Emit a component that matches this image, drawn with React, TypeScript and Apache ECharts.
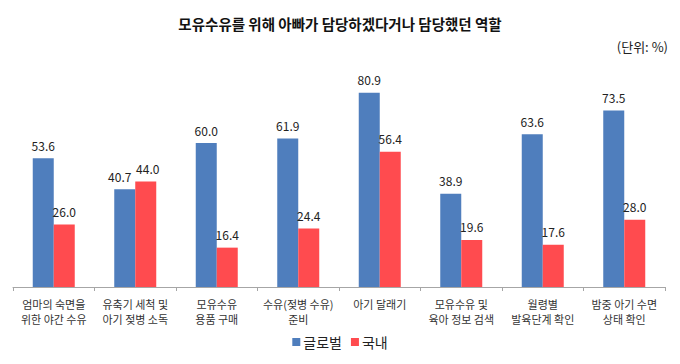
import React, { useEffect, useRef } from "react";
import * as echarts from "echarts";

const categories = [
  "엄마의 숙면을\n위한 야간 수유",
  "유축기 세척 및\n아기 젖병 소독",
  "모유수유\n용품 구매",
  "수유(젖병 수유)\n준비",
  "아기 달래기",
  "모유수유 및\n육아 정보 검색",
  "월령별\n발육단계 확인",
  "밤중 아기 수면\n상태 확인",
];
const globalValues = [53.6, 40.7, 60.0, 61.9, 80.9, 38.9, 63.6, 73.5];
const domesticValues = [26.0, 44.0, 16.4, 24.4, 56.4, 19.6, 17.6, 28.0];
const seriesNames = ["글로벌", "국내"];
const titleText = "모유수유를 위해 아빠가 담당하겠다거나 담당했던 역할";
const unitText = "(단위: %)";

const FONT = "'Noto Sans CJK KR', 'Noto Sans', sans-serif";

export default function App() {
  const ref = useRef<HTMLDivElement>(null);
  useEffect(() => {
    if (!ref.current) return;
    const chart = echarts.init(ref.current, undefined, { renderer: "svg" });
    const labelCfg = {
      show: true,
      position: "top",
      distance: 7,
      color: "#222",
      fontSize: 12,
      fontFamily: FONT,
      formatter: (p: any) => Number(p.value).toFixed(1),
    };
    // avoid overlapping labels where both bars are of similar height
    const withOffset = (vals: number[], other: number[], dx: number) =>
      vals.map((v, i) =>
        Math.abs(v - other[i]) < 6 ? { value: v, label: { offset: [dx, 0] } } : v
      );
    chart.setOption({
      animation: false,
      backgroundColor: "#fff",
      textStyle: { fontFamily: FONT },
      title: {
        text: titleText,
        left: "center",
        top: 11,
        textStyle: { fontSize: 14.5, fontWeight: "bold", color: "#111", fontFamily: FONT },
      },
      graphic: [
        {
          type: "text",
          right: 12,
          top: 40,
          style: { text: unitText, fontSize: 13, fill: "#222", fontFamily: FONT },
        },
      ],
      legend: {
        data: seriesNames,
        bottom: 10,
        left: "center",
        icon: "rect",
        itemWidth: 8,
        itemHeight: 8,
        itemGap: 9,
        textStyle: { fontSize: 14, color: "#222", fontFamily: FONT, padding: [0, 0, 0, -2] },
      },
      grid: { left: 13, right: 15, top: 71, bottom: 77 },
      xAxis: {
        type: "category",
        data: categories,
        axisLine: { lineStyle: { color: "#a6a6a6", width: 1 } },
        axisTick: { show: true, length: 4, lineStyle: { color: "#a6a6a6" } },
        axisLabel: {
          interval: 0,
          margin: 9,
          fontSize: 11,
          lineHeight: 15,
          color: "#333",
          fontFamily: FONT,
        },
      },
      yAxis: {
        type: "value",
        min: 0,
        max: 90,
        show: false,
        splitLine: { show: false },
      },
      series: [
        {
          name: seriesNames[0],
          type: "bar",
          data: withOffset(globalValues, domesticValues, -5),
          barWidth: 21,
          barGap: "0%",
          itemStyle: { color: "#4F7EBD" },
          label: labelCfg,
        },
        {
          name: seriesNames[1],
          type: "bar",
          data: withOffset(domesticValues, globalValues, 2),
          barWidth: 21,
          barGap: "0%",
          itemStyle: { color: "#FF4B4F" },
          label: labelCfg,
        },
      ],
    });
    return () => chart.dispose();
  }, []);
  return <div ref={ref} style={{ width: 680, height: 364, margin: -8 }} />;
}
